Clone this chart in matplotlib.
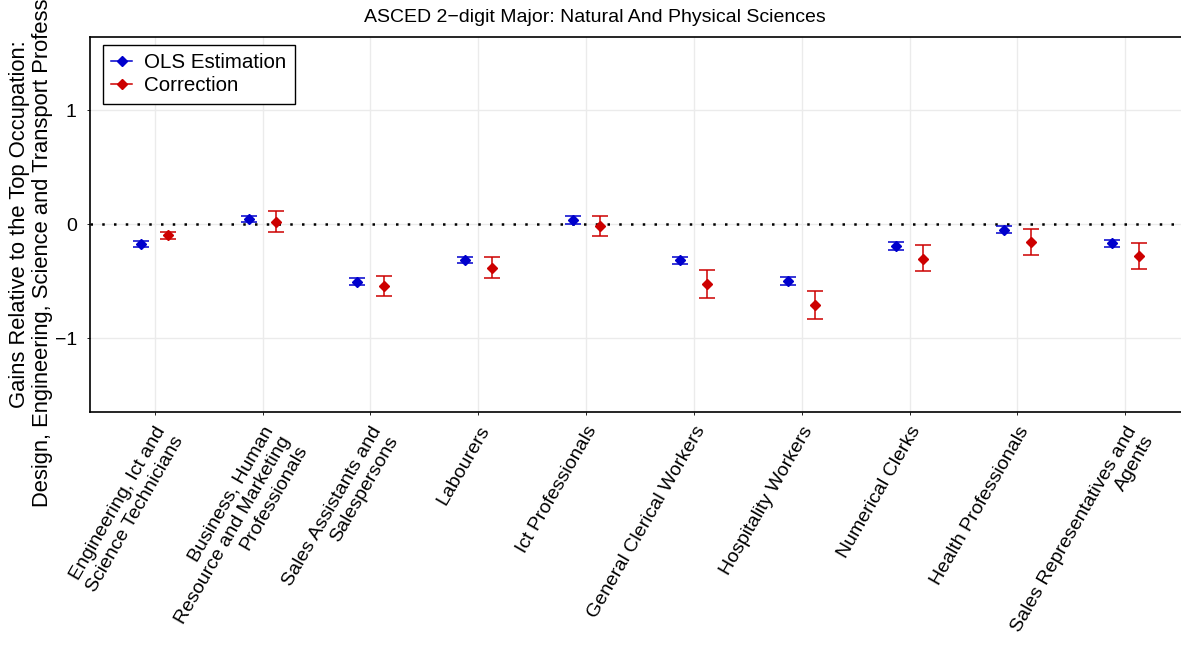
import matplotlib
matplotlib.use("Agg")
import matplotlib.pyplot as plt
from matplotlib.lines import Line2D
import numpy as np

# ----------------------------------------------------------------------
#   Data
# ----------------------------------------------------------------------

occupations = [
    "Engineering, Ict and\nScience Technicians",
    "Business, Human\nResource and Marketing\nProfessionals",
    "Sales Assistants and\nSalespersons",
    "Labourers",
    "Ict Professionals",
    "General Clerical Workers",
    "Hospitality Workers",
    "Numerical Clerks",
    "Health Professionals",
    "Sales Representatives and\nAgents",
]

ols_est   = [-0.175, 0.046, -0.505, -0.315, 0.038, -0.317, -0.497, -0.190, -0.048, -0.165]
ols_err   = [0.028, 0.027, 0.030, 0.026, 0.032, 0.029, 0.033, 0.033, 0.033, 0.030]

corr_est  = [-0.096, 0.020, -0.543, -0.380, -0.015, -0.523, -0.707, -0.300, -0.158, -0.280]
corr_low  = [-0.125, -0.067, -0.628, -0.467, -0.105, -0.648, -0.829, -0.412, -0.271, -0.394]
corr_high = [-0.067, 0.114, -0.453, -0.286, 0.076, -0.400, -0.587, -0.184, -0.044, -0.160]

title  = "ASCED 2\u2212digit Major: Natural And Physical Sciences"
ylabel = ("Gains Relative to the Top Occupation:\n"
          "Design, Engineering, Science and Transport Professionals")

# ----------------------------------------------------------------------
#   Plot
# ----------------------------------------------------------------------

plt.rcParams['font.family'] = ['Liberation Sans', 'DejaVu Sans']

blue = '#0000CD'
red  = '#CD0000'

fig = plt.figure(figsize=(11.81, 6.46), dpi=100)
ax = fig.add_axes([90/1181, 1 - 411.5/646, 1100/1181, 374.5/646])

x = np.arange(1, len(occupations) + 1)
dodge = 0.125

ax.axhline(0, color='black', linestyle=(0, (1, 3.7)), linewidth=1.8, zorder=2)

ax.errorbar(x - dodge, ols_est, yerr=ols_err, fmt='D', color=blue, ms=5,
            elinewidth=1.1, capsize=5.8, capthick=1.1, zorder=3)

corr_est_a = np.array(corr_est)
yerr_corr = [corr_est_a - np.array(corr_low), np.array(corr_high) - corr_est_a]
ax.errorbar(x + dodge, corr_est, yerr=yerr_corr, fmt='D', color=red, ms=5,
            elinewidth=1.1, capsize=5.8, capthick=1.1, zorder=3)

ax.set_xlim(0.4, 10.6)
ax.set_ylim(-1.64, 1.64)
ax.set_yticks([-1, 0, 1])
ax.set_xticks(x)
ax.set_xticklabels(occupations, rotation=60, ha='right', va='top',
                   rotation_mode='anchor', multialignment='right', fontsize=14)
ax.tick_params(axis='both', length=2.5, width=0.6, color='black', labelsize=14)
ax.tick_params(axis='x', pad=6)
ax.tick_params(axis='y', pad=7)

ax.grid(True, color='#EBEBEB', linewidth=1.0, zorder=0)
ax.set_axisbelow(True)
for s in ax.spines.values():
    s.set_linewidth(1.2)
    s.set_color('black')

# the long label runs off the top edge, as in the original figure
ax.set_ylabel(ylabel, fontsize=15.8, linespacing=1.1)
ax.yaxis.set_label_coords(-0.034, 0.5)

fig.text(595/1181, 1 - 22/646, title, ha='center', va='baseline', fontsize=14)

handles = [
    Line2D([0], [0], color=blue, marker='D', ms=5, lw=1.1),
    Line2D([0], [0], color=red, marker='D', ms=5, lw=1.1),
]
leg = ax.legend(handles, ['OLS Estimation', 'Correction'], loc='upper left',
                bbox_to_anchor=(13/1100, 1 - 8/374.5), borderaxespad=0,
                fontsize=14.8, fancybox=False, edgecolor='black', framealpha=1,
                handlelength=1.0, handletextpad=0.6, labelspacing=0.2,
                borderpad=0.4)
leg.get_frame().set_linewidth(1.0)

fig.savefig('out.png', dpi=100)
